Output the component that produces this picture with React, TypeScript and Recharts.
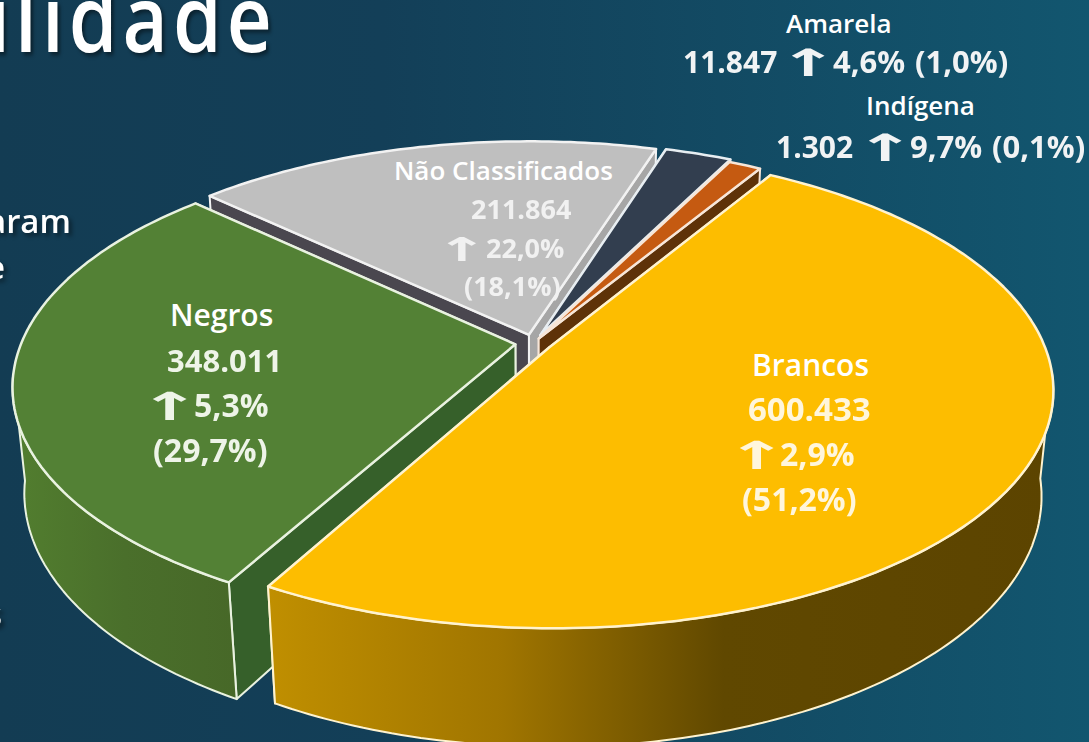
import { Pie, PieChart } from 'recharts'

// clockwise from the left edge of the grey slice
const categories = ['Não Classificados', 'Amarela', 'Indígena', 'Brancos', 'Negros']
// size of each slice as drawn in the picture (%), the small ones are drawn wider than their label says
const sliceShare = [17.86, 2.56, 1.25, 49.39, 28.94]
const counts = ['211.864', '11.847', '1.302', '600.433', '348.011']
const growth = ['22,0%', '4,6%', '9,7%', '2,9%', '5,3%']
const shareLabels = ['(18,1%)', '(1,0%)', '(0,1%)', '(51,2%)', '(29,7%)']

const chartData = categories.map((name, i) => ({ name, value: sliceShare[i] }))

const TOP_COLORS = ['#BFBFBF', '#323E4F', '#C55A11', '#FDBD00', '#538135']
const FACE_START = ['#4A474F', '#252e3b', '#7a3d10', '#8a6800', '#36602A'] // cut face at startAngle
const FACE_END = ['#A6A6A6', '#252e3b', '#5e3208', '#8a6800', '#36602A'] // cut face at endAngle
const WALL_STOPS = [
  [[0, '#8a8a8a'], [1, '#8a8a8a']],
  [[0, '#252e3b'], [1, '#252e3b']],
  [[0, '#8a4010'], [1, '#8a4010']],
  [[0, '#C08F00'], [0.3, '#A07500'], [0.58, '#604800'], [1, '#5C4400']],
  [[0, '#527E2F'], [0.5, '#4A6F2B'], [1, '#476828']],
]
const RIMS = ['#f2f2f2', '#e8eef2', '#f7e6d8', '#fff3cf', '#e9f2e0']
const VALUE_FILLS = ['#F1F1F1', '#F1F3F4', '#F1F3F4', '#FFF6DC', '#EEF4E8']
const FRONT_SLICE = 3 // Brancos has to sit over the cut face of Negros

// 3D camera for the pie, unit = outer radius
const TILT = (27.75 * Math.PI) / 180
const DIST = 5.05
const FOCAL = 4.97
const DEPTH = 0.244
const EXPLODE = [0.037, 0.037, 0.022, 0.037, 0.037]

const LABELS = [
  { size: 26, val: 27, cnt: 27, nameX: 394, nameY: 180, countX: 471, countY: 219, arrowX: 451, arrowY: 258, pctX: 486, shareX: 464, shareY: 296 },
  { size: 26, val: 31, cnt: 30, nameX: 786, nameY: 33, countX: 683, countY: 73, arrowX: 796, arrowY: 73, pctX: 833, shareX: 915, shareY: 73 },
  { size: 26, val: 31, cnt: 30, nameX: 866, nameY: 115, countX: 776, countY: 158, arrowX: 873, arrowY: 158, pctX: 910, shareX: 992, shareY: 158 },
  { size: 30, val: 32, cnt: 33, nameX: 752, nameY: 376, countX: 748, countY: 421, arrowX: 744, arrowY: 466, pctX: 780, shareX: 742, shareY: 511 },
  { size: 30, val: 32, cnt: 31, nameX: 170, nameY: 326, countX: 167, countY: 372, arrowX: 157, arrowY: 417, pctX: 194, shareX: 153, shareY: 462 },
]

const SLIDE_TEXT = [
  { text: 'ilidade', x: 277, y: 52, size: 92, sx: 0.85, gap: 6 },
  { text: 'aram', x: 71, y: 233, size: 33, sx: 1, gap: 0 },
  { text: 'e', x: 5, y: 279, size: 33, sx: 1, gap: 0 },
  { text: 's', x: 2, y: 626, size: 33, sx: 1, gap: 0 },
]

function PieSlice3D(props: any) {
  const { cx, cy, outerRadius: R, startAngle, endAngle, midAngle, index } = props
  const s = Math.sin(TILT)
  const c = Math.cos(TILT)
  const mid = (midAngle * Math.PI) / 180
  const ox = EXPLODE[index] * Math.cos(mid)
  const oy = EXPLODE[index] * Math.sin(mid)

  const project = (x: number, y: number, z: number) => {
    const wx = x + ox
    const wy = y + oy
    const depth = DIST + wy * c - z * s
    return [cx + (R * FOCAL * wx) / depth, cy - (R * FOCAL * (wy * s + z * c)) / depth]
  }
  const toPath = (pts: number[][]) =>
    'M' + pts.map((p) => p[0].toFixed(1) + ' ' + p[1].toFixed(1)).join('L') + 'Z'

  const steps = Math.max(4, Math.ceil(Math.abs(endAngle - startAngle)))
  const angles: number[] = []
  for (let i = 0; i <= steps; i++) {
    angles.push(((startAngle + ((endAngle - startAngle) * i) / steps) * Math.PI) / 180)
  }
  const rim = (list: number[], z: number) => list.map((a) => project(Math.cos(a), Math.sin(a), z))
  const topRim = rim(angles, 0)
  // only the part of the outer wall that faces the camera gets drawn
  const frontAngles = angles.filter((a) => Math.sin(a) + oy < -0.12)
  const apex = project(0, 0, 0)
  const apexLow = project(0, 0, -DEPTH)
  const gradId = 'wall-' + index
  const rimColor = RIMS[index]

  // cut faces, the one further from the camera goes first
  const faces = [
    { a: angles[0], top: topRim[0], fill: FACE_START[index] },
    { a: angles[steps], top: topRim[steps], fill: FACE_END[index] },
  ].sort((p, q) => Math.sin(q.a) - Math.sin(p.a))

  return (
    <g>
      <defs>
        <linearGradient id={gradId} x1="0" y1="0" x2="1" y2="0">
          {WALL_STOPS[index].map((st: any) => (
            <stop key={st[0]} offset={st[0]} stopColor={st[1]} />
          ))}
        </linearGradient>
      </defs>
      {faces.map((f) => (
        <path
          key={f.a}
          d={toPath([apex, f.top, project(Math.cos(f.a), Math.sin(f.a), -DEPTH), apexLow])}
          fill={f.fill}
          stroke={rimColor}
          strokeWidth={2}
          strokeLinejoin="round"
        />
      ))}
      {frontAngles.length > 1 && (
        <path
          d={toPath([...rim(frontAngles, 0), ...rim(frontAngles, -DEPTH).reverse()])}
          fill={`url(#${gradId})`}
          stroke={rimColor}
          strokeWidth={2}
          strokeLinejoin="round"
        />
      )}
      <path d={toPath([apex, ...topRim])} fill={TOP_COLORS[index]} stroke={rimColor} strokeWidth={2.5} strokeLinejoin="round" />
    </g>
  )
}

function SliceLabel(props: any) {
  const { index } = props
  const l = LABELS[index]
  const k = l.val / 31
  return (
    <g fontFamily="'Open Sans', sans-serif">
      <text x={l.nameX} y={l.nameY} fontSize={l.size} fontWeight={600} fill="#ffffff">
        {categories[index]}
      </text>
      <g fontSize={l.val} fontWeight={700} fill={VALUE_FILLS[index]} style={{ filter: 'blur(0.45px)' }}>
        <text x={l.countX} y={l.countY} fontSize={l.cnt}>
          {counts[index]}
        </text>
        <text
          transform={`translate(${l.arrowX - 18 * k} ${l.arrowY + 3}) scale(${2.4 * k} ${1.25 * k})`}
          fontFamily="'DejaVu Sans'"
          fontWeight={700}
          fontSize={30}
        >
          ↑
        </text>
        <text x={l.pctX} y={l.arrowY}>
          {growth[index]}
        </text>
        <text x={l.shareX} y={l.shareY}>
          {shareLabels[index]}
        </text>
      </g>
    </g>
  )
}

const backShape = (p: any) => (p.index === FRONT_SLICE ? <g /> : <PieSlice3D {...p} />)
const frontShape = (p: any) => (p.index === FRONT_SLICE ? <PieSlice3D {...p} /> : <g />)

export default function App() {
  const pieProps = {
    data: chartData,
    dataKey: 'value',
    nameKey: 'name',
    cx: 533.5,
    cy: 343,
    outerRadius: 502,
    startAngle: 136.8,
    endAngle: -223.2,
    stroke: 'none',
    isAnimationActive: false,
  }
  return (
    <div
      style={{
        position: 'absolute',
        left: 0,
        top: 0,
        width: 1089,
        height: 742,
        overflow: 'hidden',
        background: 'linear-gradient(90deg, #133C53 0%, #133F58 35%, #12566F 100%)',
      }}
    >
      <svg width={1089} height={742} style={{ position: 'absolute', left: 0, top: 0 }} fontFamily="'Open Sans', sans-serif">
        {SLIDE_TEXT.map((t) => (
          <text
            key={t.text}
            transform={`translate(${t.x} ${t.y}) scale(${t.sx} 1)`}
            fontSize={t.size}
            fontWeight={600}
            letterSpacing={t.gap}
            fill="#ffffff"
            textAnchor="end"
            style={{ filter: 'drop-shadow(3px 3px 2px rgba(0,0,0,0.45))' }}
          >
            {t.text}
          </text>
        ))}
      </svg>
      <div style={{ position: 'absolute', left: 0, top: 0 }}>
        <PieChart width={1089} height={742} margin={{ top: 0, right: 0, bottom: 0, left: 0 }}>
          <Pie {...pieProps} shape={backShape} />
          <Pie {...pieProps} shape={frontShape} label={SliceLabel} labelLine={false} />
        </PieChart>
      </div>
    </div>
  )
}
